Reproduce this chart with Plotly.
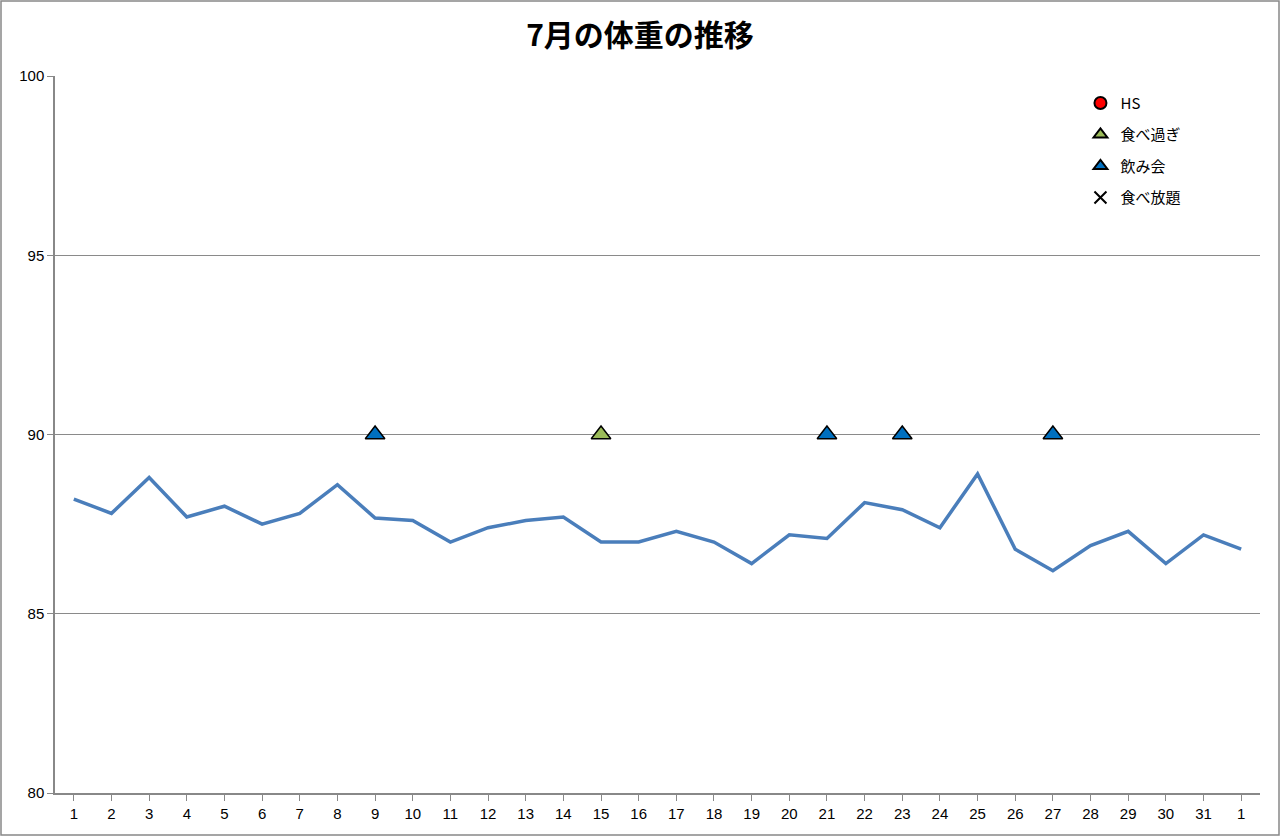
import plotly.graph_objects as go

# categories (the last one wraps to Aug 1)
day_labels = [str(d) for d in range(1, 32)] + ["1"]
weight = [88.2, 87.8, 88.8, 87.7, 88.0, 87.5, 87.8, 88.6, 87.67, 87.6,
          87.0, 87.4, 87.6, 87.7, 87.0, 87.0, 87.3, 87.0, 86.4, 87.2,
          87.1, 88.1, 87.9, 87.4, 88.9, 86.8, 86.2, 86.9, 87.3, 86.4,
          87.2, 86.8]

# event markers (day of July, marker value)
overeat_days = [15]
overeat_values = [90]
nomikai_days = [9, 21, 23, 27]
nomikai_values = [90, 90, 90, 90]

y_ticks = [80, 85, 90, 95, 100]

idx = list(range(len(day_labels)))
font_jp = "Noto Sans CJK JP"

fig = go.Figure()

fig.add_trace(go.Scatter(
    x=idx, y=weight, mode="lines",
    line=dict(color="#4A7EBB", width=3.5),
    showlegend=False, hoverinfo="skip",
))

fig.add_trace(go.Scatter(
    x=[None], y=[None], mode="markers", name="HS", legendgroup="a",
    marker=dict(symbol="circle", size=12, color="#FF0000",
                line=dict(color="black", width=1)),
))
fig.add_trace(go.Scatter(
    x=[d - 1 for d in overeat_days], y=overeat_values, mode="markers",
    name="食べ過ぎ", legendgroup="b",
    marker=dict(symbol="triangle-up", size=17, color="#9BBB59",
                line=dict(color="black", width=1.5)),
))
fig.add_trace(go.Scatter(
    x=[d - 1 for d in nomikai_days], y=nomikai_values, mode="markers",
    name="飲み会", legendgroup="c",
    marker=dict(symbol="triangle-up", size=17, color="#0070C0",
                line=dict(color="black", width=1.5)),
))
fig.add_trace(go.Scatter(
    x=[None], y=[None], mode="markers", name="食べ放題", legendgroup="d",
    marker=dict(symbol="x-thin", size=10, color="black",
                line=dict(color="black", width=2)),
))

fig.update_layout(
    width=1280, height=837,
    margin=dict(l=55, r=20, t=76, b=44),
    paper_bgcolor="white", plot_bgcolor="white",
    font=dict(family=font_jp, size=14, color="black"),
    title=dict(text="<b>7月の体重の推移</b>", x=0.5, xanchor="center",
               y=0.958, yanchor="middle",
               font=dict(family=font_jp, size=30, color="black")),
    legend=dict(x=0.851, y=0.985, xanchor="left", yanchor="top",
                bgcolor="rgba(0,0,0,0)", tracegroupgap=9,
                itemsizing="constant",
                font=dict(family=font_jp, size=15), itemwidth=30),
    xaxis=dict(
        range=[-0.5, len(day_labels) - 0.5],
        tickmode="array", tickvals=idx, ticktext=day_labels,
        showgrid=False, zeroline=False,
        showline=True, linecolor="#888888", linewidth=1.5,
        ticks="outside", ticklen=6, tickcolor="#888888",
        tickfont=dict(family="Liberation Sans", size=15),
    ),
    yaxis=dict(
        range=[80, 100], tickvals=y_ticks,
        showgrid=True, gridcolor="#8a8a8a", gridwidth=1.2,
        zeroline=False,
        showline=True, linecolor="#888888", linewidth=1.5,
        ticks="outside", ticklen=6, tickcolor="#888888",
        tickfont=dict(family="Liberation Sans", size=15),
    ),
    shapes=[dict(type="rect", xref="paper", yref="paper",
                 x0=-54 / 1205, x1=1 + 19 / 1205,
                 y0=-42 / 717, y1=1 + 75 / 717,
                 line=dict(color="#888888", width=1.5))],
)

fig.write_html("out.html", config={"displayModeBar": False},
               post_script="document.body.style.margin='0';")
